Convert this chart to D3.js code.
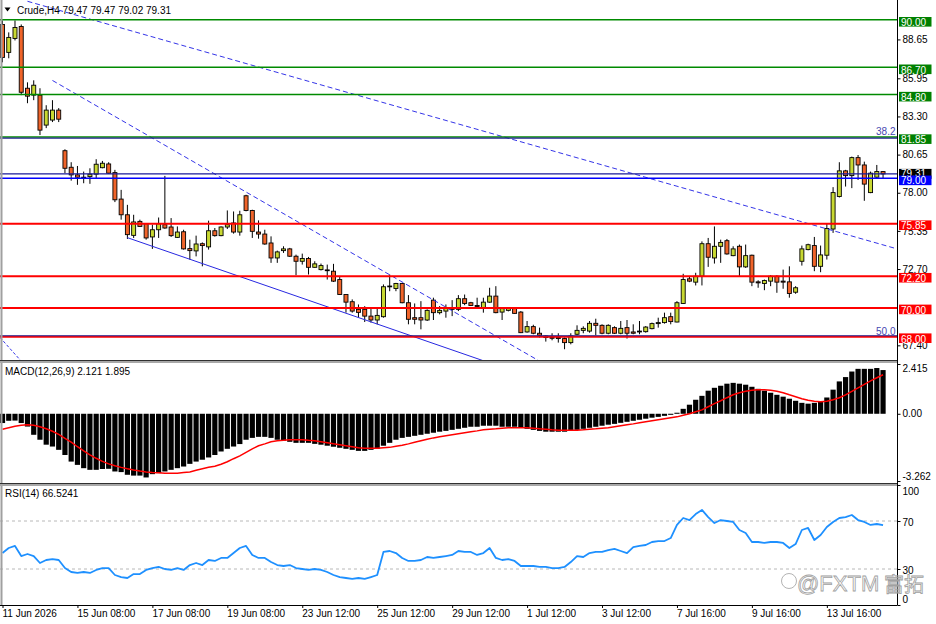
<!DOCTYPE html>
<html><head><meta charset="utf-8">
<script src="https://cdn.jsdelivr.net/npm/d3@7"></script>
<style>
html,body{margin:0;padding:0;background:#fff;}
svg{display:block;font-family:"Liberation Sans",Arial,sans-serif;}
</style></head><body>
<svg id="c" width="936" height="624"></svg>
<script>
// ---------- DATA ----------
const symbolTitle = "Crude,H4 79.47 79.47 79.02 79.31";
const openP = [89.69,87.75,88.72,89.55,85.26,84.78,84.78,82.70,83.05,83.74,
80.92,79.77,79.24,79.08,79.12,79.29,79.74,80.00,79.40,77.56,
76.47,75.04,76.01,75.85,74.93,75.43,75.78,75.62,74.90,75.29,
74.12,73.96,74.46,74.24,75.36,75.02,75.62,75.90,75.27,77.79,
76.77,75.27,75.13,74.51,73.47,73.98,74.10,73.59,73.24,73.43,
72.82,72.66,72.64,72.55,71.97,70.93,70.43,69.90,69.90,69.43,
69.16,69.39,71.47,71.35,71.70,70.36,69.32,69.32,69.16,70.54,
69.67,69.78,69.97,69.90,70.64,70.36,70.17,70.01,70.40,70.82,
69.71,69.83,69.95,69.71,68.33,68.70,68.24,68.05,67.96,67.94,
67.87,67.59,68.17,68.44,68.39,68.93,68.79,68.24,68.63,68.24,
68.63,68.33,68.39,68.35,68.56,68.91,68.98,69.39,69.02,70.31,
72.02,71.79,72.20,74.46,73.47,74.28,74.67,73.63,74.28,72.85,
73.66,71.81,71.70,71.86,72.20,71.86,71.81,71.09,73.24,74.05,
74.33,72.89,73.66,75.48,77.74,79.52,79.19,80.44,79.93,78.01,
79.08,79.47];
const highP = [89.97,89.14,89.97,89.69,85.67,85.81,85.26,84.08,84.43,83.88,
81.02,80.12,79.86,79.47,79.70,80.33,80.21,80.12,79.59,78.20,
77.16,76.47,76.13,75.85,75.78,76.28,79.17,76.24,75.66,75.43,
74.74,75.02,74.55,76.06,75.55,75.66,76.77,76.70,76.75,77.86,
76.82,76.08,75.43,74.97,73.98,74.28,74.17,73.70,73.77,73.54,
73.24,73.08,73.01,73.06,72.20,70.93,70.59,70.24,70.12,69.97,
69.95,71.63,72.32,71.74,71.74,70.89,70.31,70.47,69.90,70.71,
70.13,70.24,70.54,70.89,70.93,70.42,70.71,70.71,71.40,71.51,
70.06,70.03,70.01,69.78,69.09,68.83,68.63,68.09,68.24,68.24,
67.94,68.24,68.79,68.72,69.09,69.25,68.86,68.86,68.72,69.09,
69.16,68.86,69.09,68.74,68.98,69.32,69.67,69.67,70.47,72.37,
72.20,72.44,74.62,74.86,75.66,74.74,74.79,74.28,74.40,74.40,
73.70,71.92,71.97,72.27,72.27,72.66,72.89,71.51,74.33,74.46,
74.93,74.33,75.83,78.39,80.12,79.59,80.51,80.62,80.16,79.47,
79.93,79.47];
const lowP = [87.06,87.34,88.58,84.78,84.22,84.43,82.01,82.49,82.91,82.91,
79.36,78.84,78.55,78.66,78.62,79.01,79.70,79.33,77.35,76.13,
74.79,74.86,75.62,74.74,74.10,74.86,75.50,74.93,74.86,74.05,
73.36,73.58,72.89,74.05,74.95,74.98,75.48,75.16,75.02,76.71,
74.86,74.81,74.39,73.13,73.13,73.82,73.54,72.27,73.01,72.32,
72.80,72.60,71.97,71.80,70.90,69.67,69.67,69.34,69.02,68.98,
68.86,69.32,71.16,71.16,70.32,68.86,68.86,68.51,69.09,69.16,
69.55,69.32,69.43,69.78,70.19,70.13,69.95,69.67,70.36,69.63,
69.16,69.76,69.60,68.25,68.28,68.17,67.94,67.66,67.75,67.59,
67.13,67.47,68.10,68.24,68.28,68.10,68.17,68.17,68.19,68.17,
67.87,68.17,68.17,68.28,68.51,68.63,68.91,68.86,69.00,70.28,
71.79,71.56,71.56,72.85,73.08,73.13,73.70,73.59,72.20,72.78,
71.51,71.40,71.23,71.51,71.05,71.33,70.71,70.98,72.94,74.00,
72.55,72.48,73.36,75.21,77.67,78.43,78.32,78.89,77.44,77.97,
79.01,79.02];
const closeP = [87.40,88.79,89.48,84.98,84.71,85.47,82.35,83.74,83.74,83.11,
79.70,79.24,79.08,79.01,79.29,79.98,80.05,79.36,77.51,76.47,
75.09,75.97,75.66,74.86,75.43,75.85,75.55,75.02,75.27,74.10,
73.98,74.44,74.33,75.36,75.02,75.62,75.78,75.27,76.47,76.77,
75.32,75.13,74.44,73.47,73.89,74.10,73.59,73.24,73.43,72.82,
73.06,72.94,72.60,71.86,70.93,70.40,69.78,69.69,69.43,69.16,
69.48,71.47,71.52,71.70,70.36,69.21,69.21,69.16,69.83,69.67,
69.83,69.97,69.90,70.64,70.31,70.17,70.10,70.40,70.82,69.67,
69.95,69.95,69.62,68.28,68.70,68.24,68.10,67.94,67.89,67.87,
67.59,68.05,68.44,68.58,68.93,68.79,68.24,68.79,68.24,68.58,
68.24,68.24,68.33,68.67,68.91,68.98,69.32,69.05,70.36,71.97,
71.86,72.20,74.46,73.52,74.28,74.55,73.75,74.10,72.85,73.63,
71.79,71.74,71.90,72.20,71.79,71.79,71.00,71.40,74.10,74.39,
72.89,73.68,75.52,78.01,79.52,79.19,80.44,79.93,78.60,79.36,
79.47,79.31];

const macdMain = [-0.45,-0.34,-0.33,-0.45,-0.62,-1.02,-1.26,-1.50,-1.59,-1.75,
-2.00,-2.32,-2.48,-2.64,-2.72,-2.72,-2.68,-2.67,-2.80,-2.83,
-2.96,-3.00,-3.00,-3.09,-2.93,-2.88,-2.80,-2.72,-2.64,-2.56,
-2.43,-2.32,-2.23,-2.12,-2.00,-1.83,-1.70,-1.59,-1.47,-1.26,
-1.17,-1.12,-1.12,-1.17,-1.26,-1.31,-1.36,-1.41,-1.41,-1.41,
-1.46,-1.50,-1.55,-1.60,-1.65,-1.70,-1.75,-1.80,-1.80,-1.75,
-1.70,-1.55,-1.41,-1.26,-1.17,-1.12,-1.07,-1.02,-0.97,-0.92,
-0.87,-0.83,-0.78,-0.73,-0.68,-0.63,-0.63,-0.58,-0.58,-0.58,
-0.63,-0.63,-0.63,-0.68,-0.73,-0.78,-0.83,-0.87,-0.87,-0.87,
-0.87,-0.83,-0.78,-0.73,-0.68,-0.63,-0.58,-0.53,-0.49,-0.44,
-0.39,-0.34,-0.29,-0.24,-0.19,-0.15,-0.10,-0.05,0.05,0.24,
0.44,0.68,0.87,1.12,1.26,1.36,1.46,1.50,1.46,1.41,
1.31,1.21,1.12,1.02,0.92,0.83,0.73,0.63,0.53,0.49,
0.53,0.60,0.79,1.17,1.57,1.78,2.05,2.18,2.18,2.18,
2.22,2.121];
const macdSignal = [-0.75,-0.68,-0.61,-0.56,-0.53,-0.56,-0.63,-0.73,-0.85,-1.00,
-1.19,-1.38,-1.60,-1.80,-1.99,-2.16,-2.31,-2.43,-2.52,-2.60,
-2.67,-2.73,-2.78,-2.82,-2.85,-2.86,-2.88,-2.88,-2.88,-2.85,
-2.82,-2.74,-2.67,-2.60,-2.55,-2.45,-2.33,-2.18,-2.04,-1.87,
-1.70,-1.55,-1.46,-1.36,-1.31,-1.29,-1.26,-1.26,-1.26,-1.29,
-1.31,-1.36,-1.41,-1.46,-1.50,-1.55,-1.60,-1.65,-1.67,-1.67,
-1.67,-1.65,-1.63,-1.58,-1.53,-1.46,-1.38,-1.31,-1.24,-1.17,
-1.12,-1.07,-1.02,-0.97,-0.92,-0.87,-0.83,-0.78,-0.75,-0.73,
-0.70,-0.68,-0.68,-0.68,-0.68,-0.70,-0.73,-0.75,-0.78,-0.80,
-0.80,-0.80,-0.80,-0.78,-0.75,-0.73,-0.70,-0.68,-0.63,-0.58,
-0.53,-0.49,-0.44,-0.39,-0.34,-0.29,-0.24,-0.19,-0.15,-0.07,
0.00,0.10,0.19,0.34,0.49,0.63,0.78,0.92,1.02,1.09,
1.14,1.17,1.17,1.14,1.09,1.02,0.92,0.83,0.73,0.66,
0.61,0.58,0.61,0.68,0.78,0.92,1.09,1.26,1.43,1.60,
1.75,1.895];
const rsiValues = [43.3,47.5,49.2,40.8,42.5,40.8,35,37.5,38.3,37.5,
30.8,27.5,26.7,27.5,26.7,29.2,30.8,30.8,25,23.3,
22.5,25.8,25.8,29.2,30.8,31.7,30,29.2,30.8,29.2,
33.3,35,33.3,37.5,36.7,39.2,39.2,43.3,47.5,49.2,
41.7,39.2,39.2,35.8,33.3,32.5,33.3,30.8,30,29.2,
30,29.2,27.5,25,23.3,22.5,21.7,22.5,21.7,23.3,
25,44.2,45,43.3,39.2,36.7,36.7,37.5,40,39.2,
40,40.8,41.7,45,44.2,44.2,41.7,43.3,47.5,39.2,
37.5,38.3,36.7,32.5,32.5,32.5,31.7,31.7,30.8,30.8,
31.7,35.8,40.8,40,43.3,44.2,44.2,45.8,46.7,45,
43.3,48.3,49.2,50,52.5,53.3,53.3,55.8,66.7,72.5,
70.8,75.8,79.2,73.3,68.3,70.8,70,69.2,62.5,60,
52.5,52.5,51.7,52.5,52.5,51.7,47.5,50.8,62.5,64.2,
54.2,58.3,65,69.2,72.5,73.3,75,70.8,69.2,66.7,
67.5,66.5241];

const timeTickBars = [0,12,24,36,48,60,72,84,96,108,120,132];
const timeTickLabels = ["11 Jun 2026","15 Jun 08:00","17 Jun 08:00","19 Jun 08:00","23 Jun 12:00","25 Jun 12:00","29 Jun 12:00","1 Jul 12:00","3 Jul 12:00","7 Jul 16:00","9 Jul 16:00","13 Jul 16:00"];
const priceTicks = [88.65,85.95,83.30,80.65,78.00,75.35,72.70,67.40];
const greenLevels = [90.00,86.70,84.80,81.85];
const redLevels = [75.85,72.20,70.00,68.00];
const blueLevel = 79.00;
const bidPrice = 79.31;
const fibLevels = [81.85,68.00];
const fibLabels = ["38.2","50.0"];
const macdTicks = [2.415,0.00,-3.262];
const macdTickLabels = ["2.415","0.00","-3.262"];
const rsiTicks = [100,70,30,0];
const rsiLevels = [70,30];
// trend lines in (bar index, price)
const trendDashedLong = [[4,91.30],[143,74.13]];
const trendDashedSteep = [[8,85.80],[100,62.80]];
const trendSolid = [[20,74.88],[80,65.88]];
const trendDashedCorner = [[-0.4,67.95],[3,66.30]];
const macdTitle = "MACD(12,26,9) 2.121 1.895";
const rsiTitle = "RSI(14) 66.5241";
const watermarkLatin = "@FXTM";
const watermarkCJK = "富拓";

// ---------- LAYOUT ----------
const axisX = 897.5;
const P = {main:[0,360], macd:[363,483], rsi:[486,605]};
const svg = d3.select("#c");
const x = d3.scaleLinear().domain([0,141]).range([2.5,883.05]);
const yP = d3.scaleLinear().domain([68,90]).range([336.7,20]);
const yM = d3.scaleLinear().domain([-3.262,2.415]).range([481,364]);
const yR = d3.scaleLinear().domain([0,100]).range([605,485]);
const UP = "#c8d832", DN = "#f0642a";

const defs = svg.append("defs");
Object.entries(P).forEach(([k,[t,b]])=>{
  defs.append("clipPath").attr("id","clip-"+k).append("rect")
    .attr("x",0).attr("y",t).attr("width",axisX).attr("height",b-t);
});

svg.append("rect").attr("width",936).attr("height",624).attr("fill","#fff");

// ---------- MAIN PANEL ----------
const gMain = svg.append("g").attr("clip-path","url(#clip-main)");
const idx = d3.range(openP.length);
gMain.append("g").selectAll("line").data(idx).join("line")
  .attr("x1",i=>x(i)).attr("x2",i=>x(i))
  .attr("y1",i=>yP(highP[i])).attr("y2",i=>yP(lowP[i]))
  .attr("stroke","#000").attr("stroke-width",1);
gMain.append("g").selectAll("rect").data(idx).join("rect")
  .attr("x",i=>x(i)-2).attr("width",4)
  .attr("y",i=>yP(Math.max(openP[i],closeP[i])))
  .attr("height",i=>Math.max(0.8,Math.abs(yP(openP[i])-yP(closeP[i]))))
  .attr("fill",i=>closeP[i]>=openP[i]?UP:DN)
  .attr("stroke","#000").attr("stroke-width",0.9);

const tl = d3.line().x(d=>x(d[0])).y(d=>yP(d[1]));
gMain.append("path").attr("d",tl(trendDashedLong)).attr("fill","none")
  .attr("stroke","#3535e8").attr("stroke-width",1).attr("stroke-dasharray","5,3");
gMain.append("path").attr("d",tl(trendDashedSteep)).attr("fill","none")
  .attr("stroke","#3535e8").attr("stroke-width",1).attr("stroke-dasharray","5,3");
gMain.append("path").attr("d",tl(trendDashedCorner)).attr("fill","none")
  .attr("stroke","#3535e8").attr("stroke-width",1).attr("stroke-dasharray","3,2");
gMain.append("path").attr("d",tl(trendSolid)).attr("fill","none")
  .attr("stroke","#2828e0").attr("stroke-width",1);

const hl = (g,p,col,w,off)=>g.append("line").attr("x1",0).attr("x2",axisX)
  .attr("y1",yP(p)+(off||0)).attr("y2",yP(p)+(off||0)).attr("stroke",col).attr("stroke-width",w);
greenLevels.forEach(p=>hl(gMain,p,"#008a00",1.4,-0.3));
redLevels.forEach(p=>hl(gMain,p,"#ff0000",2,0));
fibLevels.forEach(p=>hl(gMain,p,"#202090",1.2,0.8*(p<70?-1.2:1)));
hl(gMain,bidPrice,"#1a1a9a",1.3,0);
hl(gMain,blueLevel,"#0000ff",1.5,0);
fibLevels.forEach((p,i)=>{
  svg.append("text").attr("x",895.5).attr("y",yP(p)-2.2).attr("text-anchor","end")
    .attr("font-size",10).attr("fill","#4646b0").text(fibLabels[i]);
});

svg.append("path").attr("d","M4.5,7.5 L10.5,7.5 L7.5,11.5 Z").attr("fill","#000");
svg.append("text").attr("x",17).attr("y",13.5).attr("font-size",10).attr("fill","#000").text(symbolTitle);

// ---------- MACD PANEL ----------
const gM = svg.append("g").attr("clip-path","url(#clip-macd)");
gM.append("g").selectAll("rect").data(idx).join("rect")
  .attr("x",i=>x(i)-2.6).attr("width",5.2)
  .attr("y",i=>Math.min(yM(macdMain[i]),yM(0)))
  .attr("height",i=>Math.abs(yM(macdMain[i])-yM(0)))
  .attr("fill","#000");
gM.append("path").datum(idx).attr("fill","none").attr("stroke","#ff0000").attr("stroke-width",1.5)
  .attr("d",d3.line().x(i=>x(i)).y(i=>yM(macdSignal[i])));
svg.append("text").attr("x",5).attr("y",375).attr("font-size",10).attr("fill","#000").text(macdTitle);

// ---------- RSI PANEL ----------
const gR = svg.append("g").attr("clip-path","url(#clip-rsi)");
rsiLevels.forEach(v=>gR.append("line").attr("x1",0).attr("x2",axisX).attr("y1",yR(v)).attr("y2",yR(v))
  .attr("stroke","#b8b8b8").attr("stroke-width",1).attr("stroke-dasharray","3,3"));
gR.append("path").datum(idx).attr("fill","none").attr("stroke","#1e90ff").attr("stroke-width",1.8)
  .attr("stroke-linejoin","round")
  .attr("d",d3.line().x(i=>x(i)).y(i=>yR(rsiValues[i])));
svg.append("text").attr("x",5).attr("y",497).attr("font-size",10).attr("fill","#000").text(rsiTitle);

// ---------- FRAME / SEPARATORS ----------
svg.append("line").attr("x1",1.5).attr("x2",1.5).attr("y1",0).attr("y2",605).attr("stroke","#a0a0a0").attr("stroke-width",2);
[[360,363],[483,486]].forEach(([a,b])=>{
  svg.append("rect").attr("x",0).attr("y",a).attr("width",axisX).attr("height",b-a).attr("fill","#a8a8a8");
  svg.append("line").attr("x1",0).attr("x2",axisX).attr("y1",a+0.5).attr("y2",a+0.5).attr("stroke","#303030");
});
svg.append("line").attr("x1",axisX).attr("x2",axisX).attr("y1",0).attr("y2",605).attr("stroke","#000");
svg.append("line").attr("x1",0).attr("x2",axisX).attr("y1",605.5).attr("y2",605.5).attr("stroke","#000");

// ---------- AXES ----------
const styleAxis = g=>{g.select(".domain").remove();
  g.selectAll("text").attr("font-size",10).attr("fill","#000").attr("font-family","'Liberation Sans',Arial,sans-serif");
  g.selectAll("line").attr("stroke","#000");};
svg.append("g").attr("transform",`translate(${axisX},0)`)
  .call(d3.axisRight(yP).tickValues(priceTicks).tickFormat(d3.format(".2f")).tickSize(3).tickPadding(2))
  .call(styleAxis);
const box = (p,fill,top,h,base)=>{
  svg.append("rect").attr("x",899).attr("y",yP(p)-top).attr("width",32.5).attr("height",h).attr("fill",fill);
  svg.append("text").attr("x",901).attr("y",yP(p)+base).attr("font-size",10).attr("fill","#fff").text(d3.format(".2f")(p));
};
greenLevels.forEach(p=>box(p,"#008000",3,9.6,6));
box(bidPrice,"#000",5,10,3.6);
box(blueLevel,"#0000ff",2.8,9.6,6);
redLevels.forEach(p=>box(p,"#ff0000",3.3,9.6,5.8));

const gma = svg.append("g").attr("transform",`translate(${axisX},0)`)
  .call(d3.axisRight(yM).tickValues(macdTicks).tickFormat((d,i)=>macdTickLabels[i]).tickSize(3).tickPadding(2))
  .call(styleAxis);
gma.selectAll(".tick text").attr("dy",(d,i)=>i===0?"0.75em":(i===2?"-0.15em":"0.32em"));
const gra = svg.append("g").attr("transform",`translate(${axisX},0)`)
  .call(d3.axisRight(yR).tickValues(rsiTicks).tickFormat(d3.format("d")).tickSize(3).tickPadding(2))
  .call(styleAxis);
gra.selectAll(".tick text").attr("dy",d=>d===100?"0.9em":(d===0?"-0.3em":"0.42em"));
svg.append("g").attr("transform","translate(0,605)")
  .call(d3.axisBottom(x).tickValues(timeTickBars).tickFormat((d,i)=>timeTickLabels[i]).tickSize(3).tickPadding(2))
  .call(styleAxis)
  .call(g=>g.selectAll(".tick text").attr("text-anchor","start").attr("x",-0.5));

// watermark (drawn last, over the axis like the reference)
const wm = svg.append("g").attr("fill","none").attr("stroke","#a0a0a0").attr("stroke-width",0.8);
wm.append("circle").attr("cx",789).attr("cy",581).attr("r",7.5);
wm.append("text").attr("x",797).attr("y",591).attr("font-size",22).text(watermarkLatin);
wm.append("text").attr("x",884).attr("y",592).attr("font-size",20)
  .attr("font-family","'Noto Sans CJK SC',sans-serif").text(watermarkCJK);
</script></body></html>
